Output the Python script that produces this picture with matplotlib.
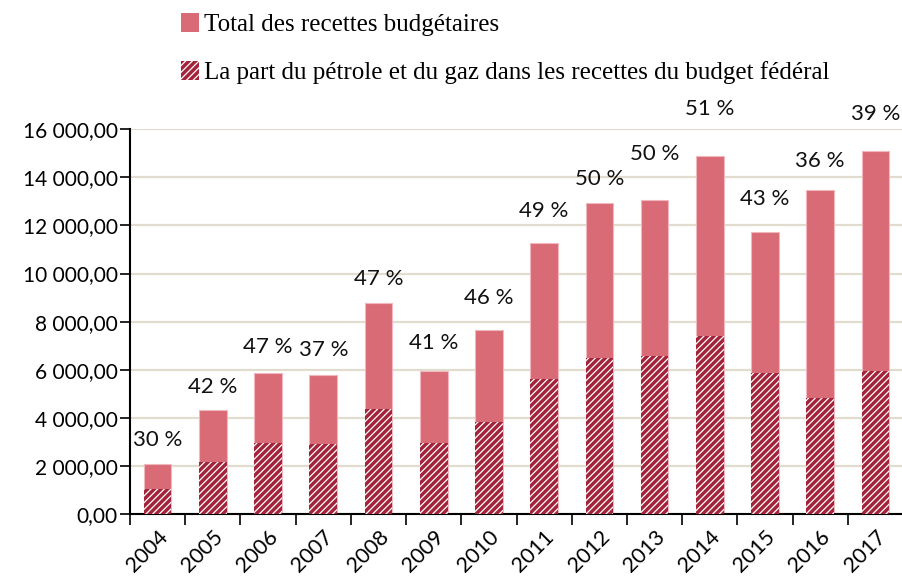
import matplotlib
matplotlib.use('Agg')
import matplotlib.pyplot as plt
from matplotlib.patches import Patch
from matplotlib.ticker import FuncFormatter

# Données
annees = ['2004', '2005', '2006', '2007', '2008', '2009', '2010',
          '2011', '2012', '2013', '2014', '2015', '2016', '2017']
recettes_totales = [2080, 4320, 5860, 5780, 8770, 5940, 7650,
                    11260, 12930, 13050, 14880, 11710, 13470, 15070]
part_petrole_gaz = [1040, 2160, 2950, 2910, 4360, 2950, 3820,
                    5610, 6480, 6570, 7420, 5850, 4820, 5960]
pourcentages = [30, 42, 47, 37, 47, 41, 46, 49, 50, 50, 51, 43, 36, 39]

# décalage du centre des étiquettes au-dessus des barres (en points)
decalages = [17, 17, 19, 18, 17, 20, 23, 23, 17, 33, 34, 24, 21, 27]

couleur_total = '#D96B76'
couleur_part = '#A3243A'
couleur_grille = '#E2DCCF'

plt.rcParams['font.family'] = ['Lato', 'DejaVu Sans']
plt.rcParams['hatch.linewidth'] = 0.9

fig = plt.figure(figsize=(9.03, 5.79), dpi=100)
ax = fig.add_axes([0.144, 0.112, 0.856, 0.665])

x = list(range(len(annees)))
ax.bar(x, recettes_totales, width=0.5, color=couleur_total,
       edgecolor='#F0B8BE', linewidth=0.8, zorder=2)
ax.bar(x, part_petrole_gaz, width=0.5, color=couleur_part,
       edgecolor='white', linewidth=0, hatch='/////', zorder=3)

for xi, val, pct, dec in zip(x, recettes_totales, pourcentages, decalages):
    ax.annotate(f'{pct} %', xy=(xi, val), xytext=(0, dec),
                textcoords='offset points', ha='center', va='center',
                fontsize=16, color='#111111', annotation_clip=False)

ax.set_ylim(0, 16000)
ax.set_xlim(-0.5, 13.43)
ax.set_yticks(range(0, 16001, 2000))
ax.yaxis.set_major_formatter(
    FuncFormatter(lambda v, p: f'{int(v):,}'.replace(',', ' ') + ',00'))
ax.tick_params(axis='y', labelsize=15, length=7, width=1.2, direction='out',
               colors='black', pad=2)
ax.grid(axis='y', color=couleur_grille, linewidth=1.6, zorder=0)
ax.set_axisbelow(True)

ax.set_xticks(x)
ax.set_xticklabels(annees, rotation=45, ha='right', rotation_mode='anchor',
                   fontsize=15.5)
ax.set_xticks([i - 0.5 for i in range(len(annees) + 1)], minor=True)
ax.tick_params(axis='x', which='major', length=0, pad=9)
ax.tick_params(axis='x', which='minor', length=8, width=1.2, direction='out')

for s in ['top', 'right']:
    ax.spines[s].set_visible(False)
ax.spines['left'].set_linewidth(1.5)
ax.spines['bottom'].set_linewidth(1.5)

# légende en haut
handles = [Patch(facecolor=couleur_total, edgecolor='none'),
           Patch(facecolor=couleur_part, edgecolor='white', linewidth=0,
                 hatch='/////')]
labels = ['Total des recettes budgétaires',
          'La part du pétrole et du gaz dans les recettes du budget fédéral']
leg = fig.legend(handles, labels, loc='upper left', bbox_to_anchor=(0.175, 1.016),
                 frameon=False, handlelength=0.75, handleheight=0.75,
                 handletextpad=0.2, labelspacing=1.0,
                 prop={'family': 'Liberation Serif', 'size': 18})

fig.savefig('out.png', dpi=100)
